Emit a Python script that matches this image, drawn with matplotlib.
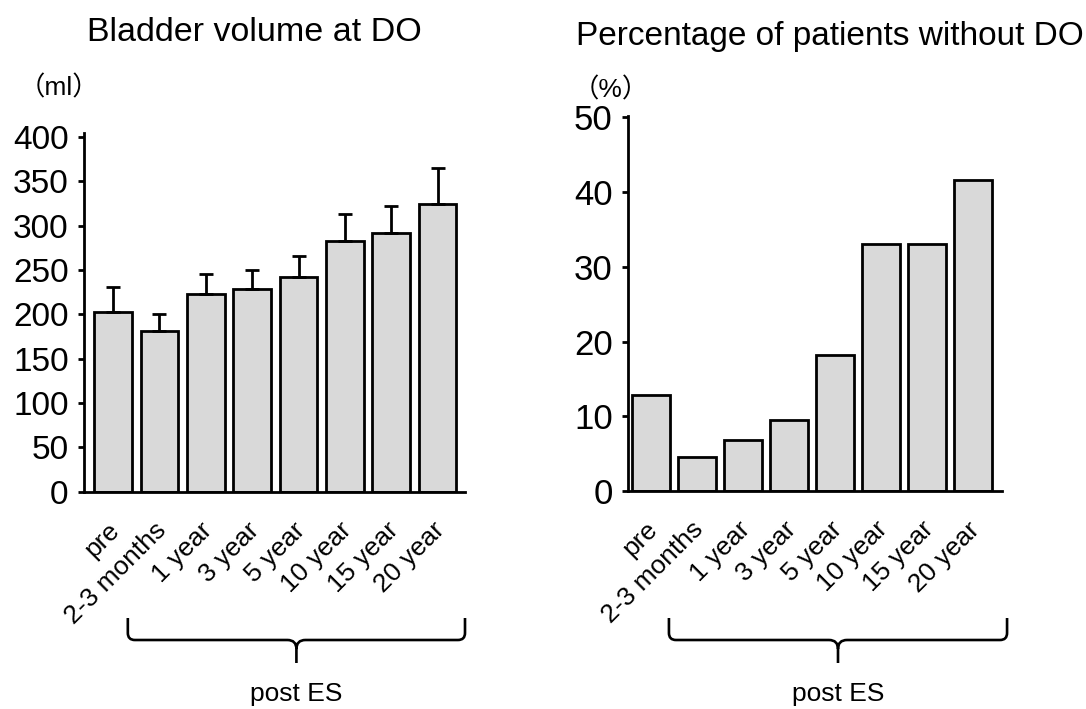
"""
Bladder volume at DO and percentage of patients without DO, before and after ES.
"""

import matplotlib
matplotlib.use("Agg")
import matplotlib.pyplot as plt
import matplotlib.transforms as mtransforms
from matplotlib.path import Path
from matplotlib.patches import PathPatch
import numpy as np

# ---------------------------------------------------------------------------
# Data
# ---------------------------------------------------------------------------

CATEGORIES = ["pre", "2-3 months", "1 year", "3 year", "5 year",
              "10 year", "15 year", "20 year"]

VOLUME_MEAN = [203, 181, 223, 229, 242, 283, 292, 325]     # ml
VOLUME_ERR = [28, 20, 23, 21, 24, 30, 30, 40]               # upper error only

NO_DO_PCT = [12.9, 4.5, 6.8, 9.5, 18.2, 33.0, 33.0, 41.6]   # %

VOLUME_TICKS = [0, 50, 100, 150, 200, 250, 300, 350, 400]
PCT_TICKS = [0, 10, 20, 30, 40, 50]

BAR_COLOR = "#d9d9d9"
LW = 2.0

plt.rcParams["font.family"] = ["Liberation Sans", "Noto Sans CJK JP", "DejaVu Sans"]

W, H = 1086, 709
fig = plt.figure(figsize=(W / 100, H / 100), dpi=100)


def style_axes(ax, ticks, ylim, xlim, tick_size):
    ax.set_xlim(*xlim)
    ax.set_ylim(*ylim)
    ax.set_yticks(ticks)
    ax.set_yticklabels([str(t) for t in ticks], fontsize=tick_size)
    for side in ("top", "right"):
        ax.spines[side].set_visible(False)
    for side in ("left", "bottom"):
        ax.spines[side].set_linewidth(LW)
    ax.tick_params(axis="y", direction="out", length=4, width=LW, pad=7)
    ax.tick_params(axis="x", length=0, pad=25)
    x = np.arange(len(CATEGORIES))
    ax.set_xticks(x)
    labels = ax.set_xticklabels(CATEGORIES, rotation=45, ha="right",
                                va="center", rotation_mode="anchor",
                                fontsize=19)
    shift = mtransforms.ScaledTranslation(3 / 100, 0, fig.dpi_scale_trans)
    for lbl in labels:
        lbl.set_transform(lbl.get_transform() + shift)


def draw_brace(ax, x0, x1, label):
    """Curly brace under the axes spanning data x0..x1 (figure-fraction y)."""
    fw, fh = fig.bbox.width, fig.bbox.height
    to_fig = fig.transFigure.inverted()
    L = to_fig.transform(ax.transData.transform((x0, 0)))[0]
    R = to_fig.transform(ax.transData.transform((x1, 0)))[0]
    C = (L + R) / 2
    yt, yl, yb = 1 - 618 / H, 1 - 640 / H, 1 - 663 / H
    rx, ry = 7 / fw, 7 / fh
    cx, cy = 9 / fw, 9 / fh
    verts = [
        (L, yt), (L, yl + ry), (L, yl), (L + rx, yl),
        (C - cx, yl), (C, yl), (C, yl - cy), (C, yb),
        (C, yl - cy), (C, yl), (C + cx, yl),
        (R - rx, yl), (R, yl), (R, yl + ry), (R, yt),
    ]
    codes = [
        Path.MOVETO, Path.LINETO, Path.CURVE3, Path.CURVE3,
        Path.LINETO, Path.CURVE3, Path.CURVE3, Path.LINETO,
        Path.MOVETO, Path.CURVE3, Path.CURVE3,
        Path.LINETO, Path.CURVE3, Path.CURVE3, Path.LINETO,
    ]
    fig.add_artist(PathPatch(Path(verts, codes), transform=fig.transFigure,
                             fill=False, lw=1.9, edgecolor="black",
                             capstyle="butt", joinstyle="round"))
    fig.text(C, 1 - 694 / H, label, ha="center", va="center", fontsize=19)


x = np.arange(len(CATEGORIES))

# --- Left: bladder volume ---------------------------------------------------
ax1 = fig.add_axes([84 / W, 1 - 491.7 / H, 381 / W, 359 / H])
ax1.bar(x, VOLUME_MEAN, width=0.81, color=BAR_COLOR, edgecolor="black",
        linewidth=LW, zorder=2)
ax1.errorbar(x, VOLUME_MEAN, yerr=[np.zeros(len(x)), VOLUME_ERR], fmt="none",
             ecolor="black", elinewidth=LW, capsize=5, capthick=LW, zorder=3)
style_axes(ax1, VOLUME_TICKS, (0, 405), (-0.625, 7.59), 24)
fig.text(254 / W, 1 - 41 / H, "Bladder volume at DO", ha="center",
         va="baseline", fontsize=24.5)
fig.text(59 / W, 1 - 88 / H, "（ml）", ha="center", va="center", fontsize=19)
draw_brace(ax1, 0.32, 7.59, "post ES")

# --- Right: percentage without DO -------------------------------------------
ax2 = fig.add_axes([628 / W, 1 - 491 / H, 374 / W, 375 / H])
ax2.bar(x, NO_DO_PCT, width=0.83, color=BAR_COLOR, edgecolor="black",
        linewidth=LW, zorder=2)
style_axes(ax2, PCT_TICKS, (0, 50.2), (-0.5, 7.63), 25)
fig.text(830 / W, 1 - 45 / H, "Percentage of patients without DO",
         ha="center", va="baseline", fontsize=24)
fig.text(611 / W, 1 - 90 / H, "（%）", ha="center", va="center", fontsize=19)
draw_brace(ax2, 0.39, 7.74, "post ES")

fig.savefig("out.png", dpi=100)
